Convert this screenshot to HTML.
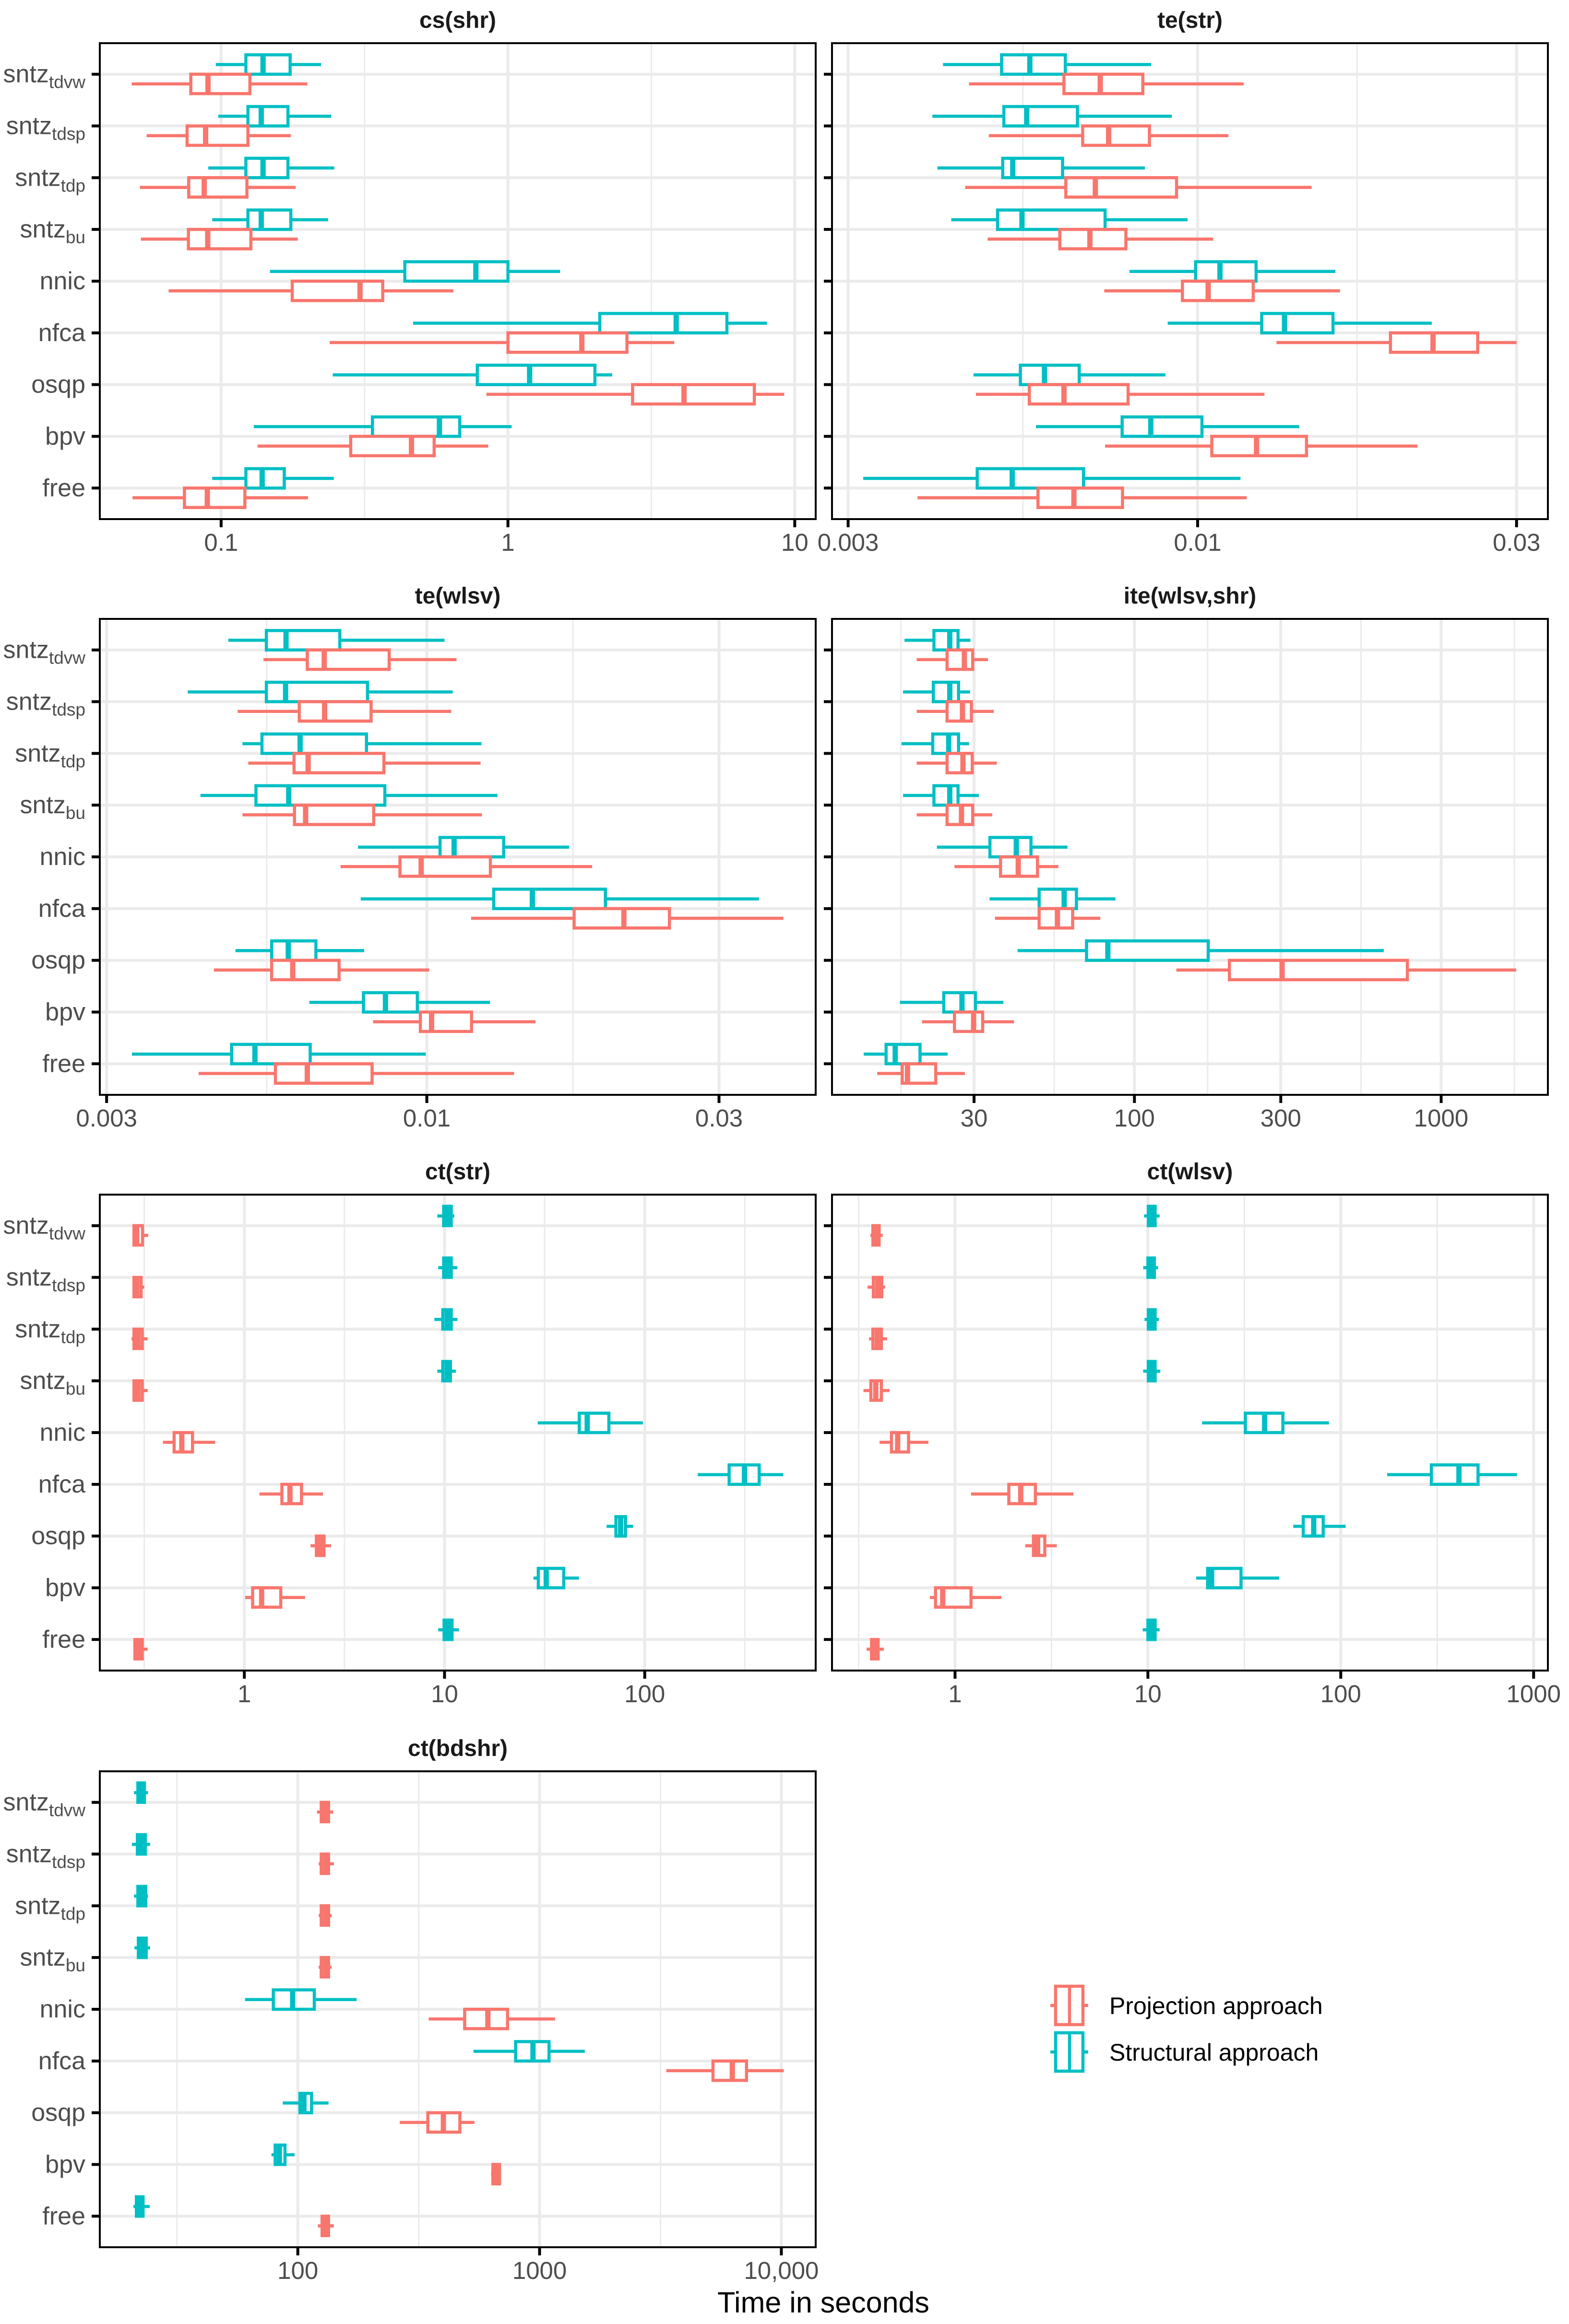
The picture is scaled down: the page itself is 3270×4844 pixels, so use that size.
<!DOCTYPE html>
<html><head><meta charset="utf-8"><style>
html,body{margin:0;padding:0;background:#fff}
svg{display:block}
text{font-family:"Liberation Sans",Arial,sans-serif}
</style></head><body>
<svg id="chart" xmlns="http://www.w3.org/2000/svg" width="3270" height="4844" viewBox="0 0 3270 4844">
<rect x="0" y="0" width="3270" height="4844" fill="#fff"/>
<g id="panels"></g>
<text x="1716" y="4820" font-size="61" text-anchor="middle" fill="#000">Time in seconds</text>
<g>
  <g>
    <line x1="2189" y1="4180" x2="2268" y2="4180" stroke="#F8766D" stroke-width="6.5"/>
    <rect x="2200" y="4140" width="57" height="80" fill="#fff" stroke="#F8766D" stroke-width="6.5"/>
    <line x1="2229" y1="4140" x2="2229" y2="4220" stroke="#F8766D" stroke-width="6.5"/>
    <text x="2312" y="4198" font-size="50" fill="#000">Projection approach</text>
  </g>
  <g>
    <line x1="2189" y1="4277" x2="2268" y2="4277" stroke="#00BFC4" stroke-width="6.5"/>
    <rect x="2200" y="4237" width="57" height="80" fill="#fff" stroke="#00BFC4" stroke-width="6.5"/>
    <line x1="2229" y1="4237" x2="2229" y2="4317" stroke="#00BFC4" stroke-width="6.5"/>
    <text x="2312" y="4295" font-size="50" fill="#000">Structural approach</text>
  </g>
</g>
</svg>
<script>
// ---- data ----
const categories = ["sntz_tdvw","sntz_tdsp","sntz_tdp","sntz_bu","nnic","nfca","osqp","bpv","free"];
const catBase = ["sntz","sntz","sntz","sntz","nnic","nfca","osqp","bpv","free"];
const catSub = ["tdvw","tdsp","tdp","bu","","","","",""];
const panelTitles = ["cs(shr)","te(str)","te(wlsv)","ite(wlsv,shr)","ct(str)","ct(wlsv)","ct(bdshr)"];
const seriesNames = ["Structural approach","Projection approach"];

// [min, q1, median, q3, max] per category
const csShrStructural = [[0.0958,0.122,0.140,0.174,0.223],[0.0978,0.124,0.138,0.171,0.242],[0.0902,0.122,0.140,0.171,0.248],[0.0931,0.124,0.138,0.175,0.236],[0.148,0.437,0.773,1.0,1.52],[0.467,2.09,3.86,5.80,8.00],[0.245,0.782,1.19,2.01,2.31],[0.130,0.337,0.577,0.679,1.03],[0.0931,0.122,0.139,0.166,0.247]];
const csShrProjection = [[0.0488,0.0784,0.0900,0.126,0.200],[0.0550,0.0761,0.0883,0.124,0.175],[0.0521,0.0771,0.0873,0.123,0.182],[0.0525,0.0769,0.0898,0.127,0.185],[0.0656,0.177,0.305,0.366,0.645],[0.239,1.0,1.81,2.60,3.80],[0.841,2.72,4.11,7.23,9.19],[0.134,0.283,0.461,0.553,0.853],[0.0491,0.0745,0.0895,0.121,0.201]];

const teStrStructural = [[0.00416,0.00509,0.00561,0.00634,0.00852],[0.00401,0.00513,0.00555,0.00661,0.00915],[0.00408,0.00511,0.00529,0.00628,0.00834],[0.00428,0.00502,0.00546,0.00727,0.00966],[0.00791,0.00993,0.01080,0.01223,0.01607],[0.00902,0.01247,0.01349,0.01594,0.02240],[0.00462,0.00543,0.00590,0.00665,0.00895],[0.00573,0.00771,0.00851,0.01015,0.01419],[0.00316,0.00468,0.00528,0.00675,0.01159]];
const teStrProjection = [[0.00455,0.00631,0.00715,0.00828,0.01172],[0.00487,0.00673,0.00736,0.00847,0.01112],[0.00449,0.00635,0.00703,0.00930,0.01481],[0.00485,0.00622,0.00690,0.00781,0.01055],[0.00725,0.00949,0.01037,0.01211,0.01633],[0.01312,0.01943,0.02250,0.02624,0.03000],[0.00466,0.00560,0.00631,0.00787,0.01259],[0.00727,0.01050,0.01225,0.01455,0.02133],[0.00381,0.00577,0.00653,0.00772,0.01184]];

const teWlsvStructural = [[0.00474,0.00547,0.00589,0.00721,0.01069],[0.00407,0.00547,0.00588,0.00800,0.01102],[0.00500,0.00538,0.00621,0.00797,0.01228],[0.00427,0.00526,0.00595,0.00854,0.01304],[0.00772,0.01051,0.01108,0.01335,0.01707],[0.00780,0.01286,0.01487,0.01957,0.03486],[0.00487,0.00558,0.00594,0.00659,0.00790],[0.00643,0.00788,0.00856,0.00965,0.01268],[0.00330,0.00480,0.00524,0.00645,0.00996]];
const teWlsvProjection = [[0.00541,0.00638,0.00680,0.00868,0.01118],[0.00491,0.00619,0.00681,0.00811,0.01096],[0.00511,0.00607,0.00640,0.00851,0.01224],[0.00500,0.00608,0.00634,0.00819,0.01230],[0.00723,0.00904,0.00979,0.01270,0.01862],[0.01181,0.01740,0.02098,0.02490,0.03822],[0.00449,0.00558,0.00604,0.00719,0.01009],[0.00817,0.00976,0.01018,0.01183,0.01505],[0.00424,0.00566,0.00638,0.00814,0.01388]];

const iteStructural = [[17.8,22.2,25.0,26.6,29.2],[17.6,22.1,25.0,26.7,29.1],[17.4,22.0,24.8,26.7,28.9],[17.6,22.2,25.0,26.6,31.1],[22.7,33.8,41.2,46.0,60.5],[33.7,48.9,59.0,64.7,86.7],[41.6,69.8,81.9,174,650],[17.2,23.9,27.4,30.3,37.4],[13.1,15.5,16.6,20.0,24.6]];
const iteProjection = [[19.5,24.5,27.9,29.7,33.3],[19.5,24.5,27.5,29.4,34.8],[19.5,24.5,27.6,29.6,35.6],[19.5,24.5,27.3,29.7,34.4],[25.9,36.6,41.8,48.3,56.5],[35.1,48.9,56.1,62.9,77.4],[137,204,303,776,1757],[20.3,25.9,29.9,32.0,40.5],[14.5,17.5,18.2,22.5,28.0]];

const ctStrStructural = [[9.2,9.9,10.3,10.8,11.2],[9.3,9.9,10.3,10.8,11.6],[8.9,9.8,10.3,10.8,11.6],[9.2,9.8,10.3,10.7,11.4],[29.2,47.1,51.6,66.2,97.9],[184,264,315,373,492],[64.5,71.8,75.8,80.1,87.4],[27.8,29.4,32.2,39.4,46.9],[9.3,9.95,10.4,10.9,11.8]];
const ctStrProjection = [[0.279,0.281,0.290,0.310,0.331],[0.280,0.281,0.290,0.305,0.316],[0.273,0.281,0.294,0.309,0.329],[0.279,0.281,0.294,0.309,0.329],[0.392,0.446,0.487,0.551,0.715],[1.19,1.54,1.69,1.93,2.47],[2.14,2.29,2.39,2.50,2.71],[1.01,1.10,1.22,1.52,2.01],[0.281,0.284,0.296,0.309,0.329]];

const ctWlsvStructural = [[9.55,10.05,10.5,10.9,11.5],[9.45,10.0,10.4,10.8,11.3],[9.6,10.05,10.5,10.9,11.4],[9.45,10.05,10.5,10.9,11.6],[19.1,32.0,40.3,50.1,86.8],[174,295,410,515,820],[56.7,63.9,72.4,81.1,106],[17.8,20.4,21.4,30.4,47.9],[9.4,10.0,10.4,10.9,11.5]];
const ctWlsvProjection = [[0.364,0.375,0.388,0.404,0.422],[0.352,0.377,0.397,0.417,0.434],[0.358,0.375,0.395,0.415,0.444],[0.335,0.366,0.388,0.415,0.457],[0.406,0.468,0.504,0.574,0.728],[1.21,1.90,2.19,2.61,4.11],[2.31,2.55,2.68,2.92,3.37],[0.740,0.792,0.863,1.21,1.74],[0.348,0.369,0.384,0.399,0.427]];

const ctBdshrStructural = [[21.0,21.8,22.5,23.2,24.0],[20.6,21.7,22.5,23.4,24.5],[21.0,21.8,22.6,23.5,24.0],[21.1,21.9,22.7,23.6,24.5],[60.5,79.2,95.2,117,175],[533,796,939,1094,1538],[86.7,102,106,114,134],[77.8,80.6,83.9,88.5,96.9],[20.9,21.5,22.2,22.9,24.4]];
const ctBdshrProjection = [[120,125,129,134,140],[122,125,130,134,141],[122,125,130,134,138],[122,125,130,134,138],[348,490,611,737,1159],[3343,5215,6268,7175,10230],[264,345,400,468,538],[630,641,658,683,689],[121,126,130,134,141]];

// tick values (majors incl. out-of-range neighbours) and labels
const ticks1 = [0.01,0.1,1,10,100];        const tickLabels1 = ["0.01","0.1","1","10","100"];
const ticks2 = [0.001,0.003,0.01,0.03,0.1]; const tickLabels2 = ["0.001","0.003","0.01","0.03","0.1"];
const ticks3 = [0.001,0.003,0.01,0.03,0.1]; const tickLabels3 = ["0.001","0.003","0.01","0.03","0.1"];
const ticks4 = [3,10,30,100,300,1000,3000]; const tickLabels4 = ["3","10","30","100","300","1000","3000"];
const ticks5 = [0.1,1,10,100,1000];         const tickLabels5 = ["0.1","1","10","100","1000"];
const ticks6 = [0.1,1,10,100,1000,10000];   const tickLabels6 = ["0.1","1","10","100","1000","10000"];
const ticks7 = [10,100,1000,10000,100000];  const tickLabels7 = ["10","100","1000","10,000","100,000"];

// ---- layout ----
const panels = [
  {name:"cs-shr", x0:208, x1:1700, y0:90,   y1:1082, dmin:-1.423, dmax:1.073, ylab:true,  s:csShrStructural, p:csShrProjection, t:ticks1, tl:tickLabels1},
  {name:"te-str", x0:1734,x1:3226, y0:90,   y1:1082, dmin:-2.547, dmax:-1.476,ylab:false, s:teStrStructural, p:teStrProjection, t:ticks2, tl:tickLabels2},
  {name:"te-wlsv",x0:208, x1:1700, y0:1290, y1:2282, dmin:-2.534, dmax:-1.365,ylab:true,  s:teWlsvStructural,p:teWlsvProjection,t:ticks3, tl:tickLabels3},
  {name:"ite-wlsv-shr",x0:1734,x1:3226,y0:1290,y1:2282,dmin:1.014,dmax:3.348,ylab:false, s:iteStructural,   p:iteProjection,   t:ticks4, tl:tickLabels4},
  {name:"ct-str", x0:208, x1:1700, y0:2490, y1:3482, dmin:-0.722, dmax:2.854, ylab:true,  s:ctStrStructural, p:ctStrProjection, t:ticks5, tl:tickLabels5},
  {name:"ct-wlsv",x0:1734,x1:3226, y0:2490, y1:3482, dmin:-0.638, dmax:3.074, ylab:false, s:ctWlsvStructural,p:ctWlsvProjection,t:ticks6, tl:tickLabels6},
  {name:"ct-bdshr",x0:208,x1:1700, y0:3692, y1:4684, dmin:1.181, dmax:4.142,  ylab:true,  s:ctBdshrStructural,p:ctBdshrProjection,t:ticks7, tl:tickLabels7}
];
const NS = "http://www.w3.org/2000/svg";
const TEAL = "#00BFC4", RED = "#F8766D";
const root = document.getElementById("panels");
function mk(tag, attrs, parent){
  const e = document.createElementNS(NS, tag);
  for (const k in attrs) e.setAttribute(k, attrs[k]);
  parent.appendChild(e);
  return e;
}
function xScale(P, v){ return P.x0 + (Math.log10(v) - P.dmin) / (P.dmax - P.dmin) * (P.x1 - P.x0); }
function yScale(P, i){ const step = (P.y1 - P.y0) / 9.2; return P.y0 + (0.6 + i) * step; }

panels.forEach((P, pi) => {
  const g = mk("g", {}, root);
  
  
  const title = mk("text", {x:(P.x0+P.x1)/2, y:P.y0-32, "font-size":48, "font-weight":"bold", "text-anchor":"middle", fill:"#1A1A1A"}, g);
  title.textContent = panelTitles[pi];
  
  
  const inRange = v => { const l = Math.log10(v); return l >= P.dmin && l <= P.dmax; };
  for (let k = 0; k < P.t.length - 1; k++){
    const m = Math.sqrt(P.t[k] * P.t[k+1]);
    if (inRange(m)){
      const x = xScale(P, m);
      const ln = mk("line", {x1:x, x2:x, y1:P.y0, y2:P.y1, stroke:"#EBEBEB", "stroke-width":3}, g);
      
      
    }
  }
  P.t.forEach((v) => {
    if (!inRange(v)) return;
    const x = xScale(P, v);
    const ln = mk("line", {x1:x, x2:x, y1:P.y0, y2:P.y1, stroke:"#EBEBEB", "stroke-width":6}, g);
    
    
  });
  categories.forEach((c, i) => {
    const y = yScale(P, i);
    const ln = mk("line", {x1:P.x0, x2:P.x1, y1:y, y2:y, stroke:"#EBEBEB", "stroke-width":6}, g);
    
    
  });
  const step = (P.y1 - P.y0) / 9.2;
  const bh = step * 0.375;
  [[P.s, TEAL, -1, "structural"], [P.p, RED, 1, "projection"]].forEach(([arr, col, dir, sname]) => {
    arr.forEach((d, i) => {
      const cy = yScale(P, i) + dir * bh / 2;
      const bg = mk("g", {}, g);
      
      
      const xmin = xScale(P, d[0]), xq1 = xScale(P, d[1]), xmed = xScale(P, d[2]), xq3 = xScale(P, d[3]), xmax = xScale(P, d[4]);
      mk("line", {x1:xmin, x2:xq1, y1:cy, y2:cy, stroke:col, "stroke-width":6.5}, bg);
      mk("line", {x1:xq3, x2:xmax, y1:cy, y2:cy, stroke:col, "stroke-width":6.5}, bg);
      mk("rect", {x:xq1, y:cy - bh/2, width:Math.max(xq3 - xq1, 0.5), height:bh, fill:"#fff", stroke:col, "stroke-width":6.5}, bg);
      mk("line", {x1:xmed, x2:xmed, y1:cy - bh/2, y2:cy + bh/2, stroke:col, "stroke-width":11}, bg);
    });
  });
  const br = mk("rect", {x:P.x0, y:P.y0, width:P.x1-P.x0, height:P.y1-P.y0, fill:"none", stroke:"#000", "stroke-width":4}, g);
  
  
  P.t.forEach((v, k) => {
    if (!inRange(v)) return;
    const x = xScale(P, v);
    mk("line", {x1:x, x2:x, y1:P.y1, y2:P.y1+17, stroke:"#000", "stroke-width":6}, g);
    const tx = mk("text", {x:x, y:P.y1+66, "font-size":51, "text-anchor":"middle", fill:"#4D4D4D"}, g);
    tx.textContent = P.tl[k];
    
    
  });
  categories.forEach((c, i) => {
    const y = yScale(P, i);
    mk("line", {x1:P.x0-17, x2:P.x0, y1:y, y2:y, stroke:"#000", "stroke-width":6}, g);
    if (P.ylab){
      const tx = mk("text", {x:P.x0-30, y:y+17, "font-size":52, "text-anchor":"end", fill:"#4D4D4D"}, g);
      
      
      const t1 = mk("tspan", {}, tx); t1.textContent = catBase[i];
      if (catSub[i]){
        const t2 = mk("tspan", {"font-size":37, dy:12}, tx); t2.textContent = catSub[i];
      }
    }
  });
});
</script>
</body></html>
